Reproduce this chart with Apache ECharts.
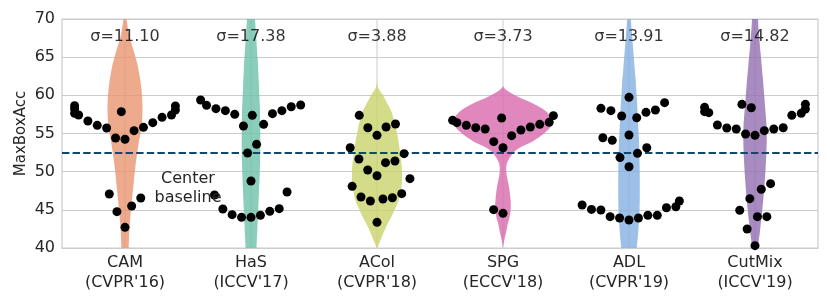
<!DOCTYPE html>
<html><head><meta charset="utf-8">
<script src="https://cdn.jsdelivr.net/npm/echarts@6/dist/echarts.min.js"></script>
<style>html,body{margin:0;padding:0;background:#fff}#c{width:830px;height:302px}</style>
</head><body><div id="c"></div>
<script>
// ---------------- data ----------------
const categories = ["CAM\n(CVPR'16)", "HaS\n(ICCV'17)", "ACol\n(CVPR'18)", "SPG\n(ECCV'18)", "ADL\n(CVPR'19)", "CutMix\n(ICCV'19)"];
const sigmas = [11.10, 17.38, 3.88, 3.73, 13.91, 14.82];
const baseline = 52.44;
const yMin = 40, yMax = 70, yStep = 5;

// violin density levels (value) and read-off relative half-widths per method
const densityLevels = [40,41,42,43,44,45,46,47,48,49,50,51,52,53,54,55,56,57,58,59,60,61,62,63,64,65,66,67,68,69,70];
const violinCAM    = [3.7,3.9,4.2,4.7,5.3,6,6.7,7.5,8.3,9,9.8,10.7,11.7,12.8,14,15.5,16.7,17.2,17.5,17.4,17,16.3,15.3,14,12.5,10.5,8.3,6,4,2.7,1.5];
const violinHaS    = [5.5,5.8,6.2,6.5,6.9,7.2,7.5,7.9,8.2,8.5,8.8,9,9.2,9.3,9.3,9.3,9.2,9.1,9,8.7,8.3,8,7.7,7.3,7,6.5,6,5.5,5,4.5,4];
const violinACol   = [0.5,3.5,6.5,10,14,17.5,21,23,24.5,25,25,24.5,23.5,22.5,21.5,20,18.5,16.5,14,10,6,1.2,0,0,0,0,0,0,0,0,0];
const violinSPG    = [0,1.3,3,4.5,6.5,7.6,7.7,7,6,4.5,3.3,3.8,7.5,15,30,41,48,48.5,42,29,12,1,0,0,0,0,0,0,0,0,0];
const violinADL    = [7.8,8.5,9.2,9.7,10.2,10.5,10.7,10.8,10.8,10.8,10.7,10.6,10.4,10.2,10,9.6,9.2,8.8,8.5,8.1,7.6,7.1,6.7,6,5.4,4.8,4.2,3.6,3,2.4,1.8];
const violinCutMix = [3,3.7,4.8,5.6,6.5,7.3,8,8.7,9.3,9.9,10.4,10.8,11.2,11.5,11.7,11.7,11.5,11,10.4,9.8,9.2,8.6,8,7.3,6.6,6,5.2,4.6,4,3.4,3];

// individual MaxBoxAcc points per method
const pointsCAM    = [58.65,58.21,57.86,57.42,56.64,56.07,55.72,54.41,54.24,55.37,55.81,56.42,57.12,57.42,58.08,58.60,57.64,47.07,46.55,45.50,44.76,42.71];
const pointsHaS    = [59.39,58.69,58.25,57.99,57.51,55.98,57.38,56.20,57.60,57.99,58.51,58.73,53.58,52.44,48.78,46.94,47.34,45.11,44.37,44.02,44.02,44.28,44.80,45.15];
const pointsACol   = [57.38,55.85,55.76,56.24,54.76,53.14,52.36,51.66,51.18,51.40,50.22,49.47,49.08,48.08,46.68,46.16,46.42,46.59,47.12,43.36];
const pointsSPG    = [57.34,56.46,56.20,55.85,55.59,57.03,53.93,53.14,54.72,55.46,55.76,56.07,56.42,56.72,45.02,44.54];
const pointsADL    = [59.74,58.30,57.99,57.07,57.29,57.77,58.08,59.04,54.80,54.45,54.10,52.40,53.14,51.84,50.65,46.16,45.41,45.28,44.28,44.28,43.93,43.67,43.93,44.11,44.98,45.06,45.63];
const pointsCutMix = [58.43,57.86,57.64,57.38,55.76,55.59,54.93,54.76,55.37,55.59,55.72,56.11,57.73,58.38,58.82,58.21,58.82,48.43,47.69,46.46,44.94,44.11,44.11,42.49,40.31];

// ---------------- styles ----------------
const violinColors = ['rgba(233,149,111,0.8)','rgba(110,192,170,0.8)','rgba(201,210,107,0.8)','rgba(216,106,174,0.8)','rgba(132,176,226,0.8)','rgba(146,110,176,0.8)'];
const FONT = 'DejaVu Sans';
const TXT = '#262626';
const VIOLIN_REF_BAND = 126;   // half-widths above were read relative to this band width
const DOT_D = 9;               // marker diameter used by the swarm layout
const SWARM_Y_SCALE = 0.3;     // swarm was laid out on a compressed value scale
const SWARM_HALF_WIDTH = 0.4;  // fraction of band

const violins = [violinCAM, violinHaS, violinACol, violinSPG, violinADL, violinCutMix];
const points = [pointsCAM, pointsHaS, pointsACol, pointsSPG, pointsADL, pointsCutMix];

const chart = echarts.init(document.getElementById('c'), null, {renderer: 'canvas'});

function catmull(arr, k, t) {
  const p0 = arr[Math.max(k - 1, 0)], p1 = arr[k], p2 = arr[Math.min(k + 1, arr.length - 1)], p3 = arr[Math.min(k + 2, arr.length - 1)];
  const t2 = t * t, t3 = t2 * t;
  return 0.5 * ((2 * p1) + (-p0 + p2) * t + (2 * p0 - 5 * p1 + 4 * p2 - p3) * t2 + (-p0 + 3 * p1 - 3 * p2 + p3) * t3);
}

function violinRender(params, api) {
  const i = api.value(0);
  const w = violins[i];
  let lo = 0, hi = w.length - 1;
  while (lo < w.length - 1 && w[lo] === 0 && w[lo + 1] === 0) lo++;
  while (hi > 0 && w[hi] === 0 && w[hi - 1] === 0) hi--;
  const prof = [];
  for (let k = lo; k <= hi; k++) {
    const steps = k < hi ? 6 : 1;
    for (let s = 0; s < steps; s++) {
      const t = s / steps;
      const v = densityLevels[k] + (k < hi ? (densityLevels[k + 1] - densityLevels[k]) * t : 0);
      const hw = k < hi ? Math.max(0, catmull(w, k, t)) : w[k];
      prof.push([v, hw / VIOLIN_REF_BAND]);
    }
  }
  const pts = [];
  prof.forEach(([v, h]) => pts.push(api.coord([i + h, v])));
  for (let k = prof.length - 1; k >= 0; k--) pts.push(api.coord([i - prof[k][1], prof[k][0]]));
  return {type: 'polygon', shape: {points: pts}, style: {fill: violinColors[i], stroke: null}};
}

function gridLineRender(params, api) {
  const i = api.value(0);
  const p0 = api.coord([i, yMin]), p1 = api.coord([i, yMax]);
  return {type: 'line', shape: {x1: p0[0], y1: p0[1], x2: p1[0], y2: p1[1]}, style: {stroke: '#cccccc', lineWidth: 1}};
}

const baseOption = {
  animation: false,
  grid: {left: 62, right: 12, top: 19, bottom: 54, show: true, borderColor: '#cccccc', borderWidth: 1.25, backgroundColor: '#fff'},
  xAxis: [
    {type: 'category', data: categories, boundaryGap: true,
     axisLine: {show: false}, axisTick: {show: false}, splitLine: {show: false},
     axisLabel: {color: TXT, fontFamily: FONT, fontSize: 16, lineHeight: 20, margin: 5}},
    {type: 'value', min: -0.5, max: 5.5, show: false}
  ],
  yAxis: {type: 'value', min: yMin, max: yMax, interval: yStep,
    name: 'MaxBoxAcc', nameLocation: 'middle', nameGap: 33, nameMoveOverlap: false,
    nameTextStyle: {color: TXT, fontFamily: FONT, fontSize: 15},
    axisLine: {show: false}, axisTick: {show: false},
    axisLabel: {color: TXT, fontFamily: FONT, fontSize: 16, margin: 7},
    splitLine: {lineStyle: {color: '#cccccc', width: 1}}},
  series: []
};
chart.setOption(baseOption);

// swarm layout (seaborn-like beeswarm) computed in pixel space
const pxPerUnit = (chart.convertToPixel({yAxisIndex: 0}, yMin) - chart.convertToPixel({yAxisIndex: 0}, yMax)) / (yMax - yMin);
const bandPx = chart.convertToPixel({xAxisIndex: 1}, 1) - chart.convertToPixel({xAxisIndex: 1}, 0);

function beeswarm(values) {
  const order = values.map((v, i) => i).sort((a, b) => values[a] - values[b]);
  const placed = [];
  const out = new Array(values.length);
  const d = DOT_D, d2 = d * d;
  order.forEach(i => {
    const y = values[i] * pxPerUnit * SWARM_Y_SCALE;
    const nbRev = [];
    for (let j = placed.length - 1; j >= 0; j--) {
      if (y - placed[j].y < d) nbRev.push(placed[j]); else break;
    }
    const nb = nbRev.reverse();
    const cands = [0];
    let leftFirst = true;
    nb.forEach(n => {
      const dy = y - n.y;
      const dx = Math.sqrt(Math.max(d2 - dy * dy, 0)) * 1.05;
      if (leftFirst) cands.push(n.x - dx, n.x + dx); else cands.push(n.x + dx, n.x - dx);
      leftFirst = !leftFirst;
    });
    const sorted = cands.map((c, k) => [Math.abs(c), k, c]).sort((a, b) => a[0] - b[0] || a[1] - b[1]);
    let x = 0;
    for (const s of sorted) {
      const c = s[2];
      if (nb.every(n => (n.x - c) * (n.x - c) + (n.y - y) * (n.y - y) >= d2 - 1e-6)) { x = c; break; }
    }
    placed.push({x, y});
    out[i] = x;
  });
  const lim = SWARM_HALF_WIDTH * bandPx;
  return out.map(x => Math.max(-lim, Math.min(lim, x)));
}

const dotData = [];
points.forEach((vals, i) => {
  const offs = beeswarm(vals);
  vals.forEach((v, k) => dotData.push([i + offs[k] / bandPx, v]));
});

chart.setOption({
  series: [
    {type: 'custom', xAxisIndex: 1, yAxisIndex: 0, z: 1, silent: true,
     renderItem: gridLineRender, data: categories.map((c, i) => [i])},
    {type: 'custom', xAxisIndex: 1, yAxisIndex: 0, z: 2, silent: true, clip: true,
     renderItem: violinRender, data: categories.map((c, i) => [i])},
    {type: 'scatter', xAxisIndex: 1, yAxisIndex: 0, z: 3, silent: true, symbolSize: 0,
     data: [[0, baseline]],
     markLine: {silent: true, z: 3, symbol: ['none', 'none'], label: {show: false}, animation: false,
       lineStyle: {color: '#0f4a6b', width: 2, type: [7.4, 3.2]},
       data: [{yAxis: baseline}]}},
    {type: 'scatter', xAxisIndex: 1, yAxisIndex: 0, z: 6, silent: true,
     symbol: 'circle', symbolSize: 9, itemStyle: {color: '#000', opacity: 1},
     data: dotData},
    {type: 'scatter', xAxisIndex: 0, yAxisIndex: 0, z: 7, silent: true, symbolSize: 0,
     data: categories.map((c, i) => [c, 67.68, sigmas[i]]),
     label: {show: true, position: 'inside', color: '#000', fontFamily: FONT, fontSize: 16,
       formatter: p => 'σ=' + p.value[2].toFixed(2)}}
  ],
  graphic: [{type: 'text', x: 188, y: 188, z: 10,
    style: {text: 'Center\nbaseline', fill: TXT, font: '16px "DejaVu Sans"', align: 'center', verticalAlign: 'middle', lineHeight: 19}}]
});
</script></body></html>
